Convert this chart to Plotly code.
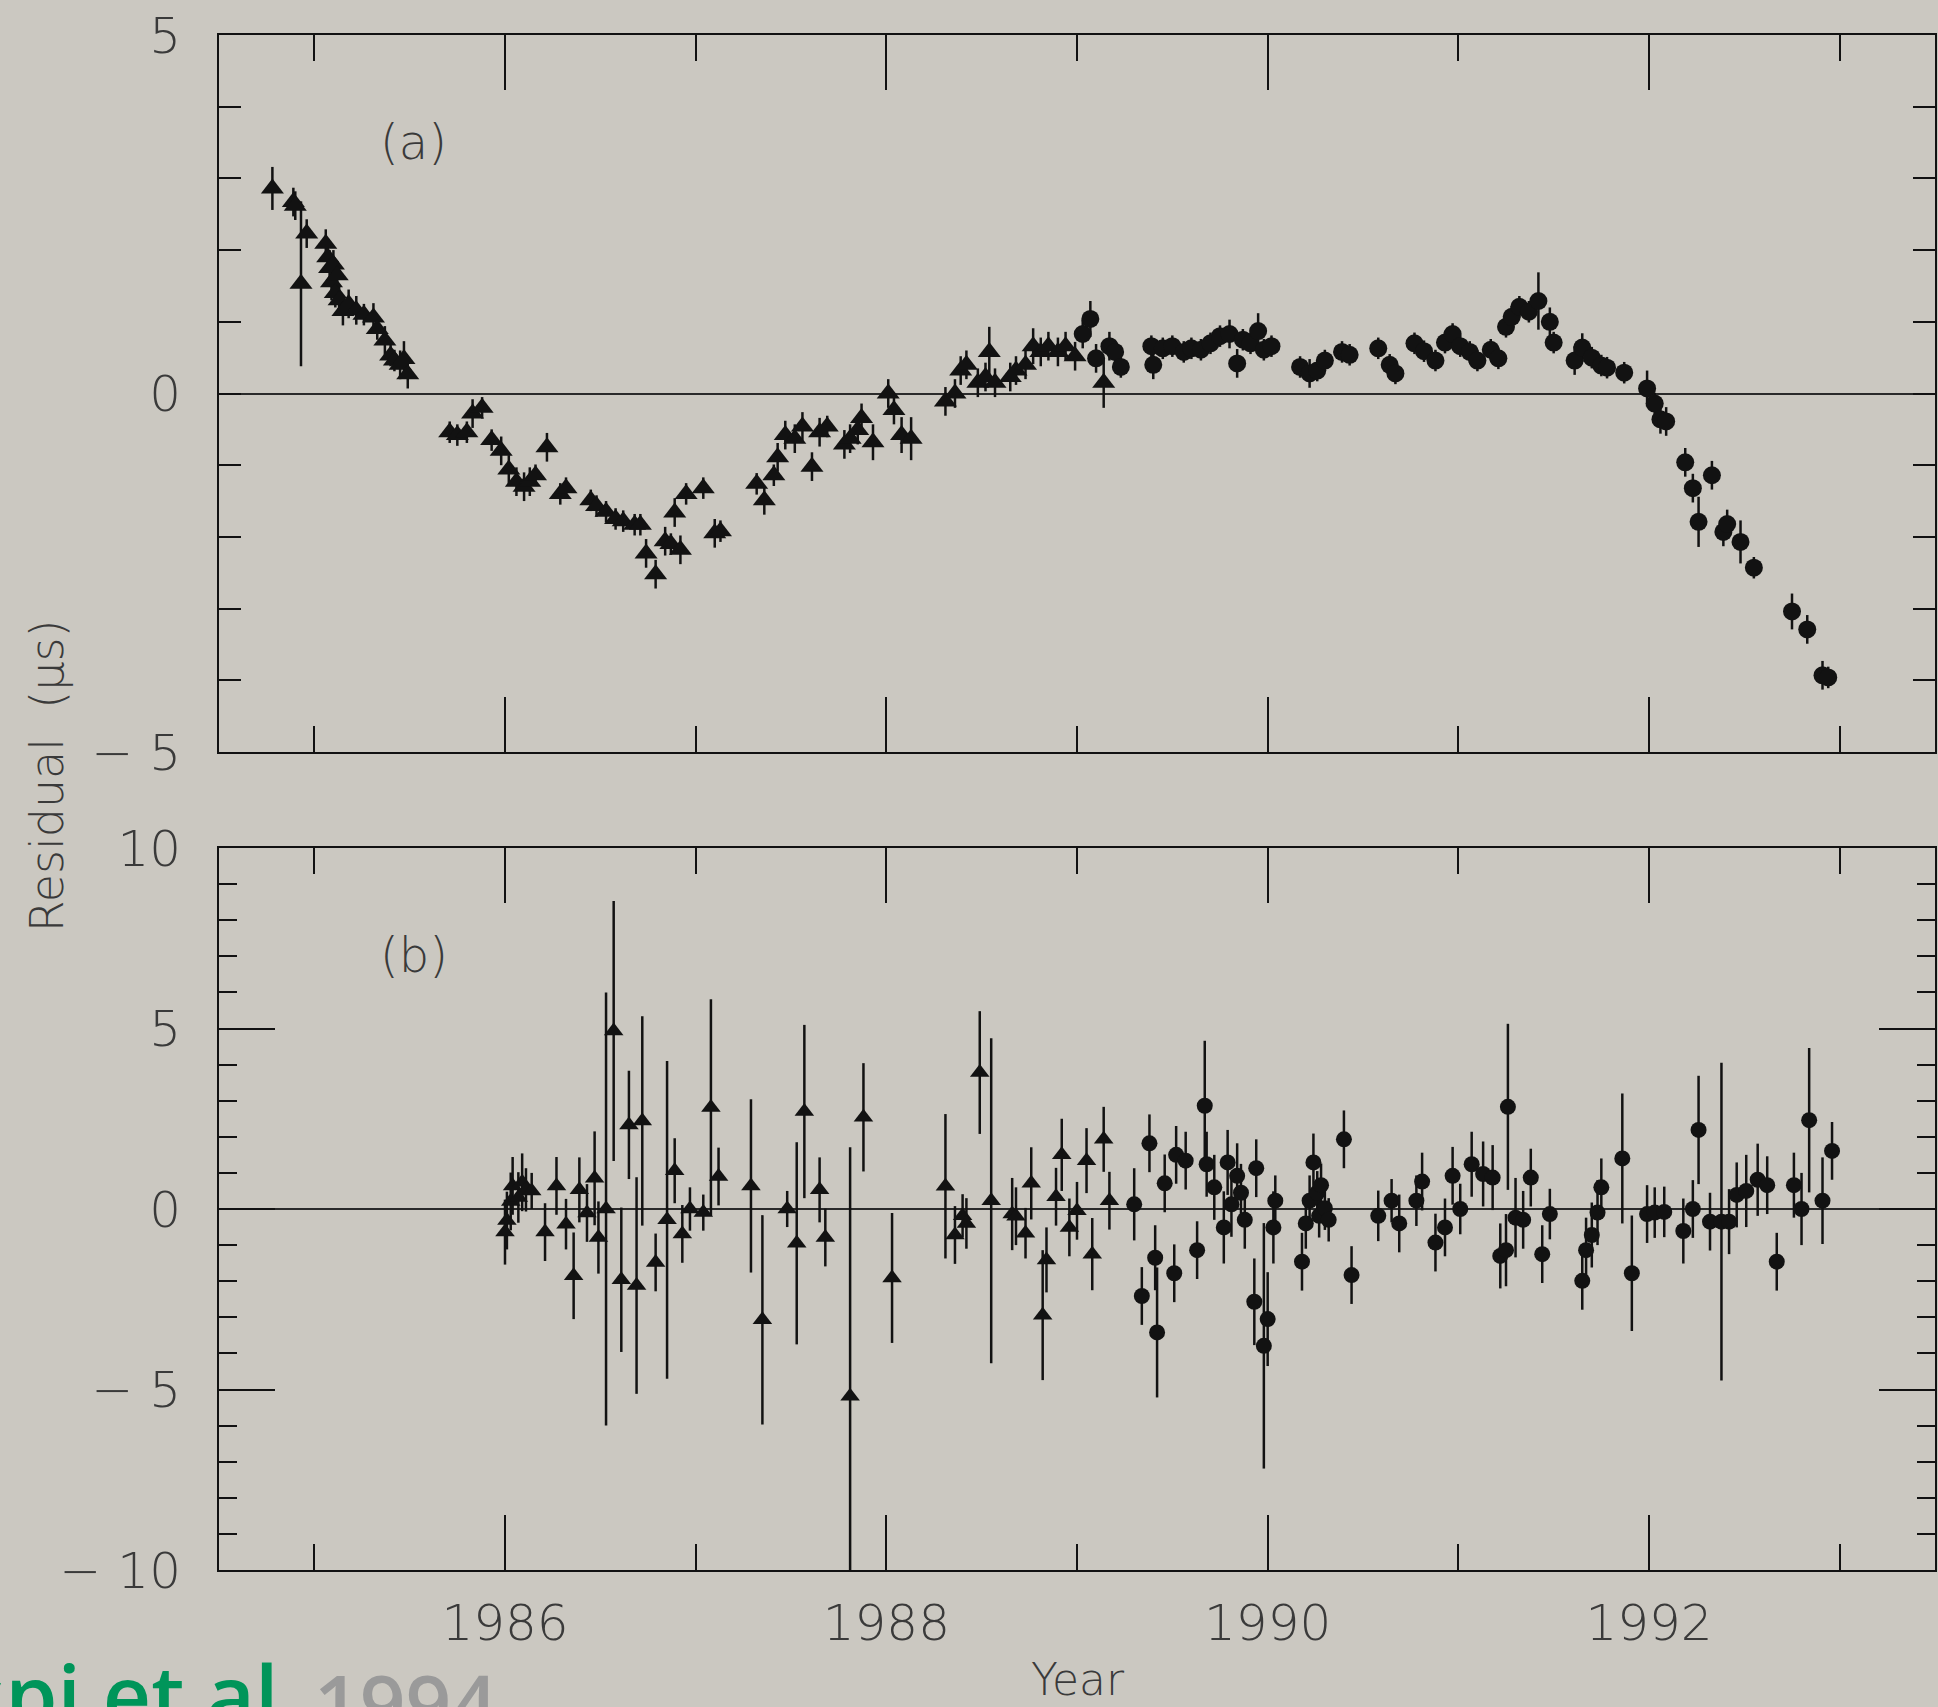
import plotly.graph_objects as go
from plotly.subplots import make_subplots

# ---------------- data: panel (a) ----------------
a_tri_year = [1984.78, 1984.89, 1984.90, 1984.93, 1984.96, 1985.06, 1985.07, 1985.08, 1985.09, 1985.10,
              1985.11, 1985.12, 1985.13, 1985.15, 1985.18, 1985.22, 1985.26, 1985.31, 1985.33, 1985.37,
              1985.40, 1985.42, 1985.45, 1985.47, 1985.49,
              1985.71, 1985.75, 1985.80, 1985.83, 1985.88, 1985.93, 1985.98, 1986.02, 1986.06, 1986.10,
              1986.13, 1986.16, 1986.22, 1986.29, 1986.32, 1986.45, 1986.48, 1986.53, 1986.58, 1986.62,
              1986.68, 1986.71, 1986.74, 1986.79, 1986.84, 1986.87, 1986.92, 1986.89, 1986.95, 1987.04,
              1987.10, 1987.13,
              1987.32, 1987.36, 1987.41, 1987.43, 1987.47, 1987.52, 1987.56, 1987.61, 1987.65, 1987.69,
              1987.78, 1987.81, 1987.85, 1987.87, 1987.93, 1988.01, 1988.04, 1988.08, 1988.13,
              1988.31, 1988.36, 1988.39, 1988.42, 1988.48, 1988.52, 1988.54, 1988.57, 1988.65, 1988.68,
              1988.73, 1988.77, 1988.81, 1988.85, 1988.90, 1988.94, 1988.99, 1989.14]
a_tri_res = [2.86, 2.67, 2.62, 1.53, 2.23, 2.09, 1.90, 1.75, 1.55, 1.80,
             1.40, 1.65, 1.30, 1.15, 1.25, 1.16, 1.10, 1.06, 0.90, 0.74,
             0.53, 0.46, 0.40, 0.48, 0.27,
             -0.54, -0.58, -0.54, -0.28, -0.20, -0.65, -0.80, -1.06, -1.23, -1.30,
             -1.23, -1.14, -0.75, -1.40, -1.32, -1.49, -1.57, -1.65, -1.75, -1.78,
             -1.83, -1.83, -2.23, -2.52, -2.06, -2.10, -2.18, -1.66, -1.40, -1.32,
             -1.95, -1.92,
             -1.26, -1.49, -1.14, -0.89, -0.58, -0.63, -0.46, -1.02, -0.54, -0.46,
             -0.71, -0.63, -0.51, -0.34, -0.68, 0.00, -0.23, -0.58, -0.63,
             -0.11, 0.00, 0.32, 0.40, 0.15, 0.23, 0.58, 0.15, 0.23, 0.32,
             0.40, 0.66, 0.58, 0.66, 0.58, 0.66, 0.52, 0.15]
a_tri_err = [0.30, 0.20, 0.20, 1.15, 0.20, 0.20, 0.20, 0.25, 0.25, 0.20,
             0.20, 0.20, 0.20, 0.20, 0.20, 0.20, 0.15, 0.20, 0.15, 0.20,
             0.15, 0.15, 0.20, 0.25, 0.20,
             0.15, 0.15, 0.15, 0.20, 0.15, 0.15, 0.20, 0.20, 0.20, 0.20,
             0.20, 0.15, 0.20, 0.15, 0.15, 0.15, 0.15, 0.15, 0.15, 0.15,
             0.15, 0.15, 0.20, 0.20, 0.20, 0.15, 0.20, 0.20, 0.15, 0.15,
             0.20, 0.15,
             0.15, 0.20, 0.15, 0.20, 0.20, 0.20, 0.20, 0.20, 0.20, 0.15,
             0.20, 0.20, 0.20, 0.20, 0.25, 0.20, 0.20, 0.25, 0.30,
             0.20, 0.20, 0.20, 0.20, 0.20, 0.20, 0.35, 0.20, 0.20, 0.20,
             0.20, 0.25, 0.20, 0.20, 0.20, 0.20, 0.20, 0.35]

a_circ_year = [1989.03, 1989.07, 1989.10, 1989.17, 1989.20, 1989.23, 1989.39, 1989.40, 1989.45, 1989.50,
               1989.56, 1989.60, 1989.65, 1989.70, 1989.75, 1989.80, 1989.84, 1989.87, 1989.91, 1989.95,
               1989.98, 1990.02, 1990.17, 1990.22, 1990.26, 1990.30, 1990.39, 1990.43, 1990.58, 1990.64,
               1990.67, 1990.77, 1990.82, 1990.88, 1990.93, 1990.97, 1991.01, 1991.06, 1991.10, 1991.17,
               1991.21, 1991.25, 1991.28, 1991.32, 1991.37, 1991.42, 1991.48, 1991.50, 1991.61, 1991.65,
               1991.70, 1991.75, 1991.78, 1991.87, 1991.99, 1992.03, 1992.06, 1992.09, 1992.19, 1992.23,
               1992.26, 1992.33, 1992.39, 1992.41, 1992.48, 1992.55, 1992.75, 1992.83, 1992.91, 1992.94]
a_circ_res = [0.83, 1.04, 0.49, 0.66, 0.58, 0.37, 0.66, 0.40, 0.63, 0.66,
              0.58, 0.63, 0.61, 0.70, 0.80, 0.83, 0.42, 0.75, 0.70, 0.87,
              0.61, 0.66, 0.37, 0.28, 0.32, 0.46, 0.58, 0.54, 0.63, 0.40,
              0.28, 0.70, 0.59, 0.46, 0.71, 0.83, 0.66, 0.58, 0.46, 0.61,
              0.49, 0.93, 1.07, 1.21, 1.14, 1.29, 1.00, 0.71, 0.46, 0.64,
              0.50, 0.39, 0.36, 0.29, 0.07, -0.14, -0.36, -0.39, -0.96, -1.32,
              -1.79, -1.14, -1.93, -1.82, -2.07, -2.43, -3.04, -3.29, -3.93, -3.96]
a_circ_err = [0.20, 0.25, 0.20, 0.20, 0.15, 0.15, 0.15, 0.20, 0.15, 0.15,
              0.15, 0.15, 0.15, 0.15, 0.15, 0.20, 0.20, 0.15, 0.15, 0.25,
              0.15, 0.15, 0.15, 0.20, 0.15, 0.15, 0.15, 0.15, 0.15, 0.15,
              0.15, 0.15, 0.15, 0.15, 0.15, 0.15, 0.15, 0.15, 0.15, 0.15,
              0.15, 0.15, 0.15, 0.15, 0.15, 0.40, 0.20, 0.15, 0.20, 0.20,
              0.15, 0.15, 0.15, 0.15, 0.25, 0.15, 0.20, 0.20, 0.20, 0.20,
              0.35, 0.20, 0.20, 0.20, 0.30, 0.15, 0.25, 0.20, 0.20, 0.15]

# ---------------- data: panel (b) ----------------
b_tri_year = [1986.00, 1986.01, 1986.03, 1986.04, 1986.07, 1986.09, 1986.11, 1986.14, 1986.21, 1986.27,
              1986.32, 1986.36, 1986.39, 1986.43, 1986.47, 1986.49, 1986.53, 1986.57, 1986.61, 1986.65,
              1986.69, 1986.72, 1986.79, 1986.85, 1986.89, 1986.93, 1986.97, 1987.04, 1987.08, 1987.12,
              1987.29, 1987.35, 1987.48, 1987.53, 1987.57, 1987.65, 1987.68, 1987.81, 1987.88, 1988.03,
              1988.31, 1988.36, 1988.40, 1988.42, 1988.49, 1988.55, 1988.66, 1988.68, 1988.73, 1988.76,
              1988.82, 1988.84, 1988.89, 1988.92, 1988.96, 1989.00, 1989.05, 1989.08, 1989.14, 1989.17]
b_tri_res = [-0.64, -0.32, 0.21, 0.64, 0.32, 0.74, 0.53, 0.50, -0.64, 0.64,
             -0.42, -1.85, 0.53, -0.11, 0.85, -0.79, 0.00, 4.93, -1.96, 2.33,
             -2.12, 2.44, -1.48, -0.30, 1.06, -0.69, 0.00, -0.10, 2.81, 0.90,
             0.64, -3.07, 0.00, -0.95, 2.70, 0.53, -0.79, -5.19, 2.54, -1.91,
             0.63, -0.72, -0.19, -0.40, 3.78, 0.23, -0.14, -0.20, -0.67, 0.71,
             -2.94, -1.41, 0.34, 1.50, -0.51, -0.05, 1.34, -1.25, 1.93, 0.23]
b_tri_err = [0.9, 0.8, 0.8, 0.8, 0.7, 0.8, 0.6, 0.5, 0.8, 0.8,
             0.7, 1.2, 0.9, 0.8, 1.3, 1.0, 6.0, 3.6, 2.0, 1.5,
             3.0, 2.9, 0.8, 4.4, 0.9, 0.8, 0.6, 0.5, 3.0, 0.8,
             2.4, 2.9, 0.5, 2.8, 2.4, 0.9, 0.8, 6.9, 1.5, 1.8,
             2.0, 0.8, 0.6, 0.7, 1.7, 4.5, 1.0, 0.8, 0.7, 1.0,
             1.8, 0.9, 0.8, 1.0, 0.8, 0.8, 0.9, 1.0, 0.9, 0.8]

b_circ_year = [1989.30, 1989.34, 1989.38, 1989.41, 1989.42, 1989.46, 1989.51, 1989.52, 1989.57, 1989.63,
               1989.67, 1989.68, 1989.72, 1989.77, 1989.79, 1989.81, 1989.84, 1989.86, 1989.88, 1989.94,
               1989.93, 1989.98, 1990.00, 1990.03, 1990.04, 1990.18, 1990.20, 1990.22, 1990.24, 1990.26,
               1990.27, 1990.28, 1990.30, 1990.32, 1990.40, 1990.44, 1990.58, 1990.65, 1990.69, 1990.78,
               1990.81, 1990.88, 1990.93, 1990.97, 1991.01, 1991.07, 1991.13, 1991.18, 1991.22, 1991.25,
               1991.26, 1991.30, 1991.34, 1991.38, 1991.44, 1991.48, 1991.65, 1991.67, 1991.70, 1991.73,
               1991.75, 1991.86, 1991.91, 1991.99, 1992.03, 1992.08, 1992.18, 1992.23, 1992.26, 1992.32,
               1992.38, 1992.42, 1992.46, 1992.51, 1992.57, 1992.62, 1992.67, 1992.76, 1992.80, 1992.84,
               1992.91, 1992.96]
b_circ_res = [0.13, -2.41, 1.82, -1.35, -3.42, 0.71, -1.78, 1.50, 1.34, -1.14,
              2.86, 1.24, 0.60, -0.51, 1.29, 0.13, 0.92, 0.45, -0.30, 1.13,
              -2.57, -3.79, -3.05, -0.51, 0.23, -1.46, -0.40, 0.23, 1.29, 0.45,
              -0.19, 0.66, 0.02, -0.30, 1.93, -1.83, -0.19, 0.23, -0.40, 0.23,
              0.76, -0.93, -0.51, 0.92, 0.00, 1.24, 0.97, 0.87, -1.30, -1.14,
              2.83, -0.24, -0.30, 0.87, -1.25, -0.14, -1.99, -1.14, -0.72, -0.10,
              0.60, 1.40, -1.78, -0.14, -0.10, -0.08, -0.61, 0.00, 2.19, -0.35,
              -0.35, -0.35, 0.39, 0.50, 0.81, 0.66, -1.46, 0.66, 0.00, 2.46,
              0.23, 1.61]
b_circ_err = [1.0, 0.8, 0.8, 0.9, 1.8, 0.8, 0.8, 0.8, 0.8, 0.8,
              1.8, 0.9, 0.9, 1.0, 0.9, 0.9, 0.9, 0.8, 0.8, 0.8,
              1.2, 3.4, 1.3, 1.0, 0.7, 0.8, 0.7, 0.7, 0.8, 0.6,
              0.6, 0.6, 0.6, 0.6, 0.8, 0.8, 0.7, 0.6, 0.8, 0.7,
              0.8, 0.8, 0.8, 0.8, 0.7, 0.9, 0.9, 0.9, 0.9, 1.0,
              2.3, 1.1, 0.8, 0.8, 0.8, 0.7, 0.8, 0.9, 0.9, 0.9,
              0.8, 1.8, 1.6, 0.8, 0.7, 0.7, 0.9, 0.8, 1.5, 0.8,
              4.4, 0.9, 0.9, 1.0, 1.0, 0.8, 0.8, 0.9, 1.0, 2.0,
              1.2, 0.8]

x_tick_labels = ["1986", "1988", "1990", "1992"]
a_y_ticks = [-5, 0, 5]
a_y_labels = ["\u2212 5", "0", "5"]
b_y_ticks = [-10, -5, 0, 5, 10]
b_y_labels = ["\u2212 10", "\u2212 5", "0", "5", "10"]

# ---------------- figure ----------------
W, H = 1938, 1707
L, R, T, B = 219, 1937, 35, 1570
BG = "#CBC8C1"
INK = "#121212"
TXT = "#3a3a3a"
FONT = "DejaVu Sans"


def px(x):
    return (x - L) / (R - L)


def py(y):
    return (B - y) / (B - T)


fig = make_subplots(rows=2, cols=1, shared_xaxes=False, vertical_spacing=0.0)


def add_series(xs, ys, es, symbol, size, row):
    fig.add_trace(go.Scatter(
        x=xs, y=ys, mode="markers",
        marker=dict(symbol=symbol, size=size, color=INK, line=dict(width=0)),
        error_y=dict(type="data", array=es, visible=True, color=INK, thickness=2.5, width=0),
        showlegend=False, hoverinfo="skip"), row=row, col=1)


add_series(a_tri_year, a_tri_res, a_tri_err, "triangle-up", 20, 1)
add_series(a_circ_year, a_circ_res, a_circ_err, "circle", 18, 1)
add_series(b_tri_year, b_tri_res, b_tri_err, "triangle-up", 17, 2)
add_series(b_circ_year, b_circ_res, b_circ_err, "circle", 16, 2)

top_dom = [(B - 752) / (B - T), 1.0]
bot_dom = [0.0, (B - 848) / (B - T)]

tick_font = dict(family=FONT, size=50, color=TXT, weight=300)

common_x = dict(range=[1984.5, 1993.5], tickmode="linear", tick0=1986, dtick=2,
                ticks="inside", ticklen=55, tickwidth=2, tickcolor=INK,
                minor=dict(tickmode="linear", tick0=1985, dtick=1, ticks="inside",
                           ticklen=26, tickwidth=2, tickcolor=INK),
                showline=True, linecolor=INK, linewidth=2, mirror="allticks",
                showgrid=False, zeroline=False,
                tickfont=tick_font,
                ticklabelstandoff=8)

fig.update_xaxes(**common_x, showticklabels=False, row=1, col=1)
fig.update_xaxes(**common_x, showticklabels=True, row=2, col=1)

common_y = dict(ticks="inside", tickwidth=2, tickcolor=INK,
                showline=True, linecolor=INK, linewidth=2, mirror="allticks",
                showgrid=False, zeroline=True, zerolinecolor="#2a2a2a", zerolinewidth=2,
                tickfont=tick_font,
                ticklabelstandoff=26)

fig.update_yaxes(**common_y, range=[-5, 5], domain=top_dom,
                 tickmode="array", tickvals=a_y_ticks, ticktext=a_y_labels, ticklen=22,
                 minor=dict(tickmode="linear", tick0=0, dtick=1, ticks="inside",
                            ticklen=22, tickwidth=2, tickcolor=INK),
                 row=1, col=1)
fig.update_yaxes(**common_y, range=[-10, 10], domain=bot_dom,
                 tickmode="array", tickvals=b_y_ticks, ticktext=b_y_labels, ticklen=56,
                 minor=dict(tickmode="linear", tick0=0, dtick=1, ticks="inside",
                            ticklen=18, tickwidth=2, tickcolor=INK),
                 row=2, col=1)

ann_font = dict(family=FONT, size=48, color=TXT, weight=300)
annotations = [
    dict(text="(a)", x=px(414), y=py(142), xref="paper", yref="paper",
         showarrow=False, font=ann_font, xanchor="center", yanchor="middle"),
    dict(text="(b)", x=px(414), y=py(955), xref="paper", yref="paper",
         showarrow=False, font=ann_font, xanchor="center", yanchor="middle"),
    dict(text="Year", x=px(1079), y=py(1679), xref="paper", yref="paper",
         showarrow=False, font=dict(family=FONT, size=44, color=TXT, weight=300),
         xanchor="center", yanchor="middle"),
    dict(text="Residual  (\u03bcs)", x=px(47), y=py(776), xref="paper", yref="paper",
         showarrow=False, font=dict(family=FONT, size=46, color=TXT, weight=300), textangle=-90,
         xanchor="center", yanchor="middle"),
    dict(text="Kaspi et al.", x=px(303), y=py(1693), xref="paper", yref="paper",
         showarrow=False, font=dict(family="Open Sans", size=84, color="#00955A", weight=600),
         xanchor="right", yanchor="middle"),
    dict(text="1994", x=px(312), y=py(1702), xref="paper", yref="paper",
         showarrow=False, font=dict(family="Open Sans", size=80, color="#9A9A9A", weight=600),
         xanchor="left", yanchor="middle"),
]

fig.update_layout(width=W, height=H, paper_bgcolor=BG, plot_bgcolor=BG,
                  margin=dict(l=L, r=W - R, t=T, b=H - B),
                  annotations=annotations, showlegend=False)

fig.write_html("out.html")
